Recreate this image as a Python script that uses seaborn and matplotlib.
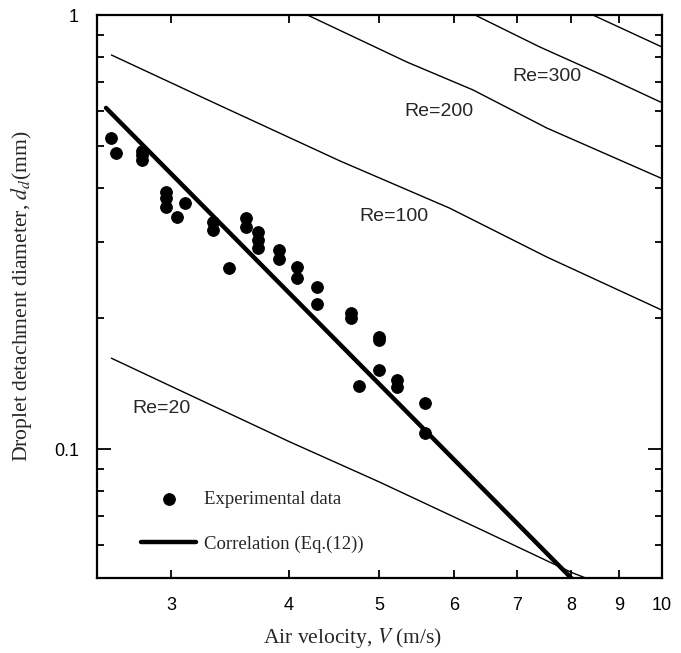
import numpy as np
import pandas as pd
import matplotlib
matplotlib.use("Agg")
import matplotlib.pyplot as plt
import matplotlib.ticker as mticker
import seaborn as sns

# experimental data (air velocity in m/s, detachment diameter in mm)
velocity = [2.59, 2.62, 2.79, 2.79, 2.79, 2.96, 2.96, 2.96, 3.10, 3.04,
            3.32, 3.32, 3.46, 3.60, 3.60, 3.71, 3.71, 3.71, 3.91, 3.91,
            4.08, 4.08, 4.29, 4.29, 4.66, 4.66, 4.75, 4.99, 4.99, 4.99,
            5.22, 5.22, 5.59, 5.59]
diameter = [0.521, 0.481, 0.486, 0.476, 0.463, 0.391, 0.379, 0.361, 0.369, 0.342,
            0.333, 0.320, 0.261, 0.340, 0.325, 0.316, 0.303, 0.290, 0.287, 0.274,
            0.263, 0.248, 0.236, 0.216, 0.206, 0.200, 0.140, 0.181, 0.178, 0.152,
            0.144, 0.139, 0.128, 0.109]

# correlation Eq.(12)
corr_v = [2.556, 8.01]
corr_d = [0.611, 0.0504]

# constant Reynolds number lines
re20_v = [2.59, 2.99, 4.01, 5.00, 6.44, 8.01, 8.31]
re20_d = [0.162, 0.140, 0.104, 0.084, 0.065, 0.052, 0.0504]
re100_v = [2.59, 3.32, 4.54, 5.94, 7.54, 10.0]
re100_d = [0.809, 0.630, 0.461, 0.359, 0.277, 0.209]
re200_v = [4.19, 5.35, 6.29, 7.54, 10.0]
re200_d = [1.0, 0.779, 0.672, 0.549, 0.420]
re300_v = [6.32, 7.41, 8.73, 10.0]
re300_d = [1.0, 0.844, 0.720, 0.628]
re400_v = [8.44, 10.0]
re400_d = [1.0, 0.844]

re_labels = ["Re=20", "Re=100", "Re=200", "Re=300"]
x_ticks = [3, 4, 5, 6, 7, 8, 9, 10]

re_df = pd.concat([
    pd.DataFrame({"V": re20_v, "d": re20_d, "Re": 20}),
    pd.DataFrame({"V": re100_v, "d": re100_d, "Re": 100}),
    pd.DataFrame({"V": re200_v, "d": re200_d, "Re": 200}),
    pd.DataFrame({"V": re300_v, "d": re300_d, "Re": 300}),
    pd.DataFrame({"V": re400_v, "d": re400_d, "Re": 400}),
])

sns.set_style("ticks")
plt.rcParams["font.family"] = ["Liberation Sans", "DejaVu Sans"]
plt.rcParams["mathtext.fontset"] = "stix"

fig = plt.figure(figsize=(6.81, 6.53), dpi=100)
ax = fig.add_axes([0.1424, 0.1149, 0.8297, 0.8621])

sns.lineplot(data=re_df, x="V", y="d", units="Re", estimator=None,
             color="black", lw=1, legend=False, ax=ax, sort=False)
sns.lineplot(x=corr_v, y=corr_d, color="black", lw=3.2,
             label="Correlation (Eq.(12))", ax=ax)
sns.scatterplot(x=velocity, y=diameter, color="black", s=70,
                edgecolor="black", linewidth=0.8, marker="o",
                label="Experimental data", ax=ax)

ax.set_xscale("log")
ax.set_yscale("log")
ax.set_xlim(2.5, 10)
ax.set_ylim(0.0505, 1)

# x ticks
ax.xaxis.set_major_locator(mticker.FixedLocator(x_ticks))
ax.xaxis.set_major_formatter(mticker.FixedFormatter([str(t) for t in x_ticks]))
ax.xaxis.set_minor_locator(mticker.NullLocator())
# y ticks
ax.yaxis.set_major_locator(mticker.FixedLocator([0.1, 1]))
ax.yaxis.set_major_formatter(mticker.FixedFormatter(["0.1", "1"]))
ax.yaxis.set_minor_locator(mticker.LogLocator(base=10, subs=np.arange(2, 10)))
ax.yaxis.set_minor_formatter(mticker.NullFormatter())

ax.tick_params(axis="both", which="both", direction="in", top=True, right=True,
               width=1.3, labelsize=13, colors="black")
ax.tick_params(axis="x", which="major", length=6, pad=14)
ax.tick_params(axis="y", which="major", length=10, pad=13)
ax.tick_params(axis="y", which="minor", length=5)

for sp in ax.spines.values():
    sp.set_linewidth(1.6)
    sp.set_color("black")

label_pos = [(2.93, 0.1243), (5.18, 0.344), (5.78, 0.598), (7.54, 0.723)]
for txt, (px, py) in zip(re_labels, label_pos):
    ax.text(px, py, txt, fontsize=14, ha="center", va="center")

serif = ["Liberation Serif", "DejaVu Serif"]
ax.set_xlabel("Air velocity, $V$ (m/s)", fontsize=15.5, family=serif)
ax.set_ylabel("Droplet detachment diameter, $d_d$(mm)", fontsize=15.6, family=serif)
ax.xaxis.set_label_coords(0.453, -0.085)
ax.yaxis.set_label_coords(-0.112, 0.5)

# legend: experimental data first
handles, labels = ax.get_legend_handles_labels()
order = [labels.index("Experimental data"), labels.index("Correlation (Eq.(12))")]
ax.legend([handles[i] for i in order], [labels[i] for i in order],
          loc="upper left", bbox_to_anchor=(0.062, 0.171), frameon=False,
          handlelength=2.9, handletextpad=0.45, labelspacing=1.45,
          borderpad=0, prop={"family": serif, "size": 13.5})

fig.savefig("out.png", dpi=100)
